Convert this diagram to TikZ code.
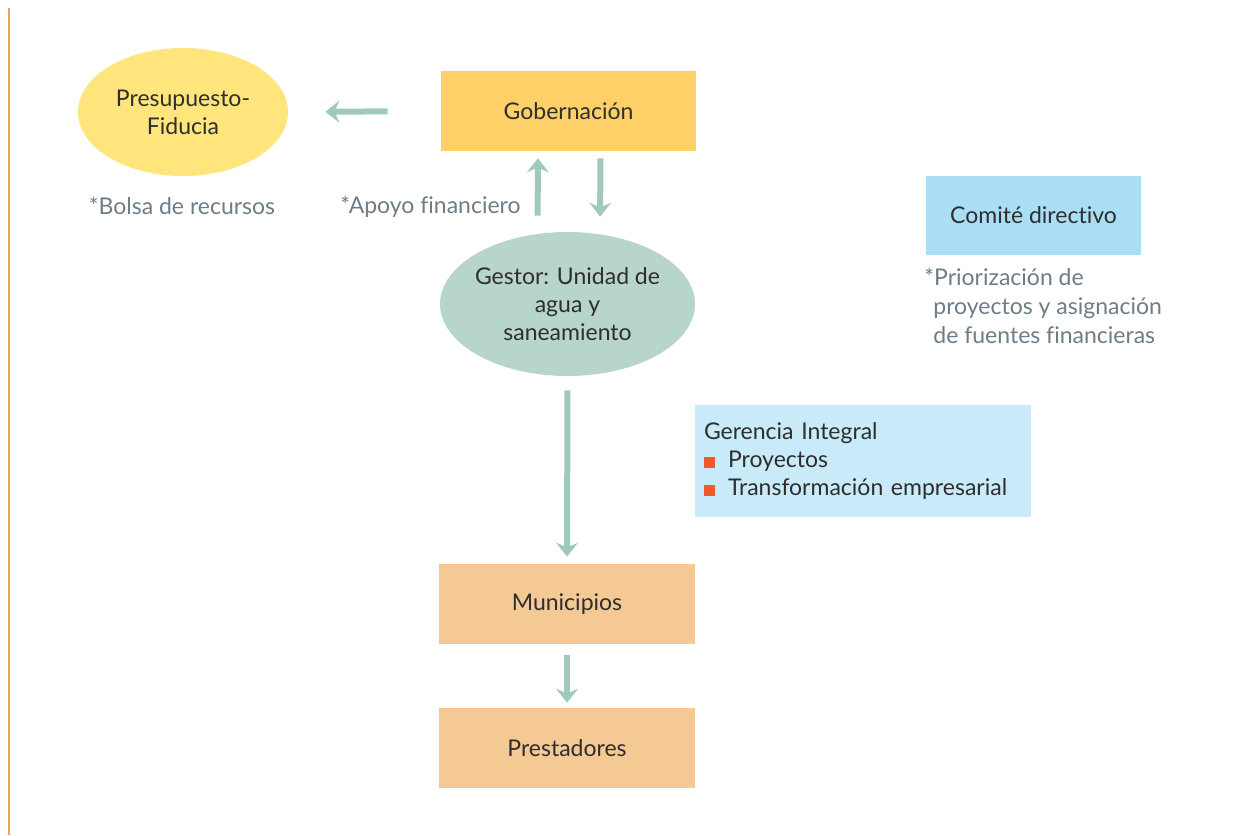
\documentclass[tikz,border=0pt]{standalone}
\usepackage{fontspec}
\setmainfont[Ligatures=NoCommon]{Lato}
\usetikzlibrary{arrows.meta,shapes.geometric}

\definecolor{sideorange}{HTML}{F0A25C}
\definecolor{fiduyellow}{HTML}{FFE57C}
\definecolor{gobyellow}{HTML}{FFD068}
\definecolor{gestgreen}{HTML}{B8D5C9}
\definecolor{comiteblue}{HTML}{A9DEF5}
\definecolor{gerblue}{HTML}{C8EAF9}
\definecolor{munorange}{HTML}{F4C994}
\definecolor{flowgreen}{HTML}{9FCAB9}
\definecolor{notegray}{HTML}{6E7C86}
\definecolor{darktext}{HTML}{2E2E2E}
\definecolor{bulletred}{HTML}{F05A28}

\tikzset{
  box/.style={rectangle, inner sep=0pt, text=darktext, font=\fontsize{11.5}{14}\selectfont},
  oval/.style={ellipse, inner sep=-8pt, align=center, text=darktext, font=\fontsize{11.5}{14}\selectfont},
  note/.style={text=notegray, inner sep=0pt, font=\fontsize{11.5}{14.5}\selectfont},
  flow/.style={draw=flowgreen, line width=3pt, -{Stealth[length=7pt,width=11pt,inset=2.5pt]}}
}
\newcommand{\bulletsq}{\textcolor{bulletred}{\rule{5.5pt}{5.5pt}}\hspace{6.5pt}}

\begin{document}
\begin{tikzpicture}[x=0.5pt,y=-0.5pt]
\useasboundingbox (0,0) rectangle (1235,835);
\draw[sideorange, line width=1pt] (8.5,8) -- (8.5,835);

\node[oval, fill=fiduyellow, minimum width=105pt, minimum height=64pt] (fidu) at (183,112) {Presupuesto-\\Fiducia};
\node[box, fill=gobyellow, minimum width=127.5pt, minimum height=40pt] (gob) at (568.5,111) {Gobernación};
\node[oval, fill=gestgreen, minimum width=127.5pt, minimum height=72pt] (gest) at (567.5,304) {Gestor: Unidad de\\agua y\\saneamiento};
\node[box, fill=comiteblue, minimum width=107.5pt, minimum height=39.5pt] (comite) at (1033.5,215.5) {Comité directivo};
\node[box, fill=gerblue, minimum width=168pt, minimum height=56pt, text width=159pt, inner xsep=4.5pt, align=left] (ger) at (863,461)
  {Gerencia Integral\\\bulletsq Proyectos\\\bulletsq Transformación empresarial};
\node[box, fill=munorange, minimum width=128pt, minimum height=40pt] (mun) at (567,604) {Municipios};
\node[box, fill=munorange, minimum width=128pt, minimum height=40pt] (prest) at (567,748) {Prestadores};

\node[note] (bolsa) at (182,206) {*Bolsa de recursos};
\node[note, anchor=east] (apoyo) at (521,207) {*Apoyo financiero};
\node[note, anchor=north west, align=left] (prior) at (924,268) {*Priorización de\\\hspace{4.5pt}proyectos y asignación\\\hspace{4.5pt}de fuentes financieras};

\draw[flow, shorten <=26.5pt, shorten >=18.5pt] (gob.west) -- (fidu.east);
\draw[flow, shorten <=8pt, shorten >=3.5pt] ([xshift=-15pt]gest.north) -- ([xshift=-15.25pt]gob.south);
\draw[flow, shorten <=3.5pt, shorten >=7.5pt] ([xshift=16pt]gob.south) -- ([xshift=16.25pt]gest.north);
\draw[flow, shorten <=7pt, shorten >=3.5pt] (gest.south) -- (mun.north);
\draw[flow, shorten <=5.5pt, shorten >=2.5pt] (mun.south) -- (prest.north);
\end{tikzpicture}
\end{document}
